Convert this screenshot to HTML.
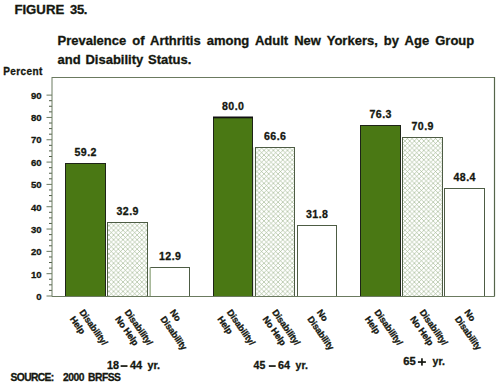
<!DOCTYPE html><html><head><meta charset="utf-8"><style>html,body{margin:0;padding:0;background:#fff;width:500px;height:383px;overflow:hidden}svg{display:block}text{font-family:"Liberation Sans",sans-serif;font-weight:bold;fill:#14170f;stroke:#14170f;stroke-width:0.3px}</style></head><body>
<svg width="500" height="383" viewBox="0 0 500 383">
<defs><pattern id="hx" patternUnits="userSpaceOnUse" x="0.8" width="4.7" height="4.7"><path d="M-1,-1 L5.7,5.7 M-1,5.7 L5.7,-1" stroke="#98b088" stroke-width="0.6" fill="none"/></pattern></defs>
<text x="14.4" y="14.2" font-size="13.2">FIGURE</text><text x="70" y="14.2" font-size="13" letter-spacing="-0.3">35.</text>
<text x="57.5" y="44.8" font-size="13" word-spacing="2.45">Prevalence of Arthritis among Adult New Yorkers, by Age Group</text>
<text x="57.5" y="63.6" font-size="13" word-spacing="1.2">and Disability Status.</text>
<text x="3.3" y="74.7" font-size="10" letter-spacing="0.4">Percent</text>
<text x="41.6" y="300.00" font-size="9.6" text-anchor="end">0</text>
<line x1="46.5" y1="296.00" x2="52" y2="296.00" stroke="#6b7a60" stroke-width="1"/>
<line x1="49" y1="290.42" x2="52" y2="290.42" stroke="#4f5d46" stroke-width="1"/>
<line x1="49" y1="284.84" x2="52" y2="284.84" stroke="#4f5d46" stroke-width="1"/>
<line x1="49" y1="279.26" x2="52" y2="279.26" stroke="#4f5d46" stroke-width="1"/>
<text x="41.6" y="277.64" font-size="9.6" text-anchor="end">10</text>
<line x1="46.5" y1="273.68" x2="52" y2="273.68" stroke="#6b7a60" stroke-width="1"/>
<line x1="49" y1="268.10" x2="52" y2="268.10" stroke="#4f5d46" stroke-width="1"/>
<line x1="49" y1="262.52" x2="52" y2="262.52" stroke="#4f5d46" stroke-width="1"/>
<line x1="49" y1="256.94" x2="52" y2="256.94" stroke="#4f5d46" stroke-width="1"/>
<text x="41.6" y="255.28" font-size="9.6" text-anchor="end">20</text>
<line x1="46.5" y1="251.36" x2="52" y2="251.36" stroke="#6b7a60" stroke-width="1"/>
<line x1="49" y1="245.78" x2="52" y2="245.78" stroke="#4f5d46" stroke-width="1"/>
<line x1="49" y1="240.20" x2="52" y2="240.20" stroke="#4f5d46" stroke-width="1"/>
<line x1="49" y1="234.62" x2="52" y2="234.62" stroke="#4f5d46" stroke-width="1"/>
<text x="41.6" y="232.92" font-size="9.6" text-anchor="end">30</text>
<line x1="46.5" y1="229.04" x2="52" y2="229.04" stroke="#6b7a60" stroke-width="1"/>
<line x1="49" y1="223.46" x2="52" y2="223.46" stroke="#4f5d46" stroke-width="1"/>
<line x1="49" y1="217.88" x2="52" y2="217.88" stroke="#4f5d46" stroke-width="1"/>
<line x1="49" y1="212.30" x2="52" y2="212.30" stroke="#4f5d46" stroke-width="1"/>
<text x="41.6" y="210.56" font-size="9.6" text-anchor="end">40</text>
<line x1="46.5" y1="206.72" x2="52" y2="206.72" stroke="#6b7a60" stroke-width="1"/>
<line x1="49" y1="201.14" x2="52" y2="201.14" stroke="#4f5d46" stroke-width="1"/>
<line x1="49" y1="195.56" x2="52" y2="195.56" stroke="#4f5d46" stroke-width="1"/>
<line x1="49" y1="189.98" x2="52" y2="189.98" stroke="#4f5d46" stroke-width="1"/>
<text x="41.6" y="188.20" font-size="9.6" text-anchor="end">50</text>
<line x1="46.5" y1="184.40" x2="52" y2="184.40" stroke="#6b7a60" stroke-width="1"/>
<line x1="49" y1="178.82" x2="52" y2="178.82" stroke="#4f5d46" stroke-width="1"/>
<line x1="49" y1="173.24" x2="52" y2="173.24" stroke="#4f5d46" stroke-width="1"/>
<line x1="49" y1="167.66" x2="52" y2="167.66" stroke="#4f5d46" stroke-width="1"/>
<text x="41.6" y="165.84" font-size="9.6" text-anchor="end">60</text>
<line x1="46.5" y1="162.08" x2="52" y2="162.08" stroke="#6b7a60" stroke-width="1"/>
<line x1="49" y1="156.50" x2="52" y2="156.50" stroke="#4f5d46" stroke-width="1"/>
<line x1="49" y1="150.92" x2="52" y2="150.92" stroke="#4f5d46" stroke-width="1"/>
<line x1="49" y1="145.34" x2="52" y2="145.34" stroke="#4f5d46" stroke-width="1"/>
<text x="41.6" y="143.48" font-size="9.6" text-anchor="end">70</text>
<line x1="46.5" y1="139.76" x2="52" y2="139.76" stroke="#6b7a60" stroke-width="1"/>
<line x1="49" y1="134.18" x2="52" y2="134.18" stroke="#4f5d46" stroke-width="1"/>
<line x1="49" y1="128.60" x2="52" y2="128.60" stroke="#4f5d46" stroke-width="1"/>
<line x1="49" y1="123.02" x2="52" y2="123.02" stroke="#4f5d46" stroke-width="1"/>
<text x="41.6" y="121.12" font-size="9.6" text-anchor="end">80</text>
<line x1="46.5" y1="117.44" x2="52" y2="117.44" stroke="#6b7a60" stroke-width="1"/>
<line x1="49" y1="111.86" x2="52" y2="111.86" stroke="#4f5d46" stroke-width="1"/>
<line x1="49" y1="106.28" x2="52" y2="106.28" stroke="#4f5d46" stroke-width="1"/>
<line x1="49" y1="100.70" x2="52" y2="100.70" stroke="#4f5d46" stroke-width="1"/>
<text x="41.6" y="98.76" font-size="9.6" text-anchor="end">90</text>
<line x1="46.5" y1="95.12" x2="52" y2="95.12" stroke="#6b7a60" stroke-width="1"/>
<rect x="65.50" y="163.50" width="40.00" height="133.00" fill="#4a7814" stroke="#1e2418" stroke-width="1"/>
<text x="85.70" y="156.20" font-size="10.6" letter-spacing="0.4" text-anchor="middle">59.2</text>
<rect x="107.50" y="222.50" width="40.00" height="74.00" fill="url(#hx)" stroke="#4d5c44" stroke-width="1"/>
<text x="127.70" y="215.20" font-size="10.6" letter-spacing="0.4" text-anchor="middle">32.9</text>
<rect x="150.50" y="267.50" width="39.00" height="29.00" fill="#fff" stroke="#4d5c44" stroke-width="1"/>
<text x="170.20" y="260.20" font-size="10.6" letter-spacing="0.4" text-anchor="middle">12.9</text>
<rect x="213.50" y="117.50" width="39.00" height="179.00" fill="#4a7814" stroke="#1e2418" stroke-width="1"/>
<text x="233.20" y="110.20" font-size="10.6" letter-spacing="0.4" text-anchor="middle">80.0</text>
<rect x="255.50" y="147.50" width="39.00" height="149.00" fill="url(#hx)" stroke="#4d5c44" stroke-width="1"/>
<text x="275.20" y="140.20" font-size="10.6" letter-spacing="0.4" text-anchor="middle">66.6</text>
<rect x="297.50" y="225.50" width="39.00" height="71.00" fill="#fff" stroke="#4d5c44" stroke-width="1"/>
<text x="317.20" y="218.20" font-size="10.6" letter-spacing="0.4" text-anchor="middle">31.8</text>
<rect x="360.50" y="125.50" width="40.00" height="171.00" fill="#4a7814" stroke="#1e2418" stroke-width="1"/>
<text x="380.70" y="118.20" font-size="10.6" letter-spacing="0.4" text-anchor="middle">76.3</text>
<rect x="402.50" y="137.50" width="40.00" height="159.00" fill="url(#hx)" stroke="#4d5c44" stroke-width="1"/>
<text x="422.70" y="130.20" font-size="10.6" letter-spacing="0.4" text-anchor="middle">70.9</text>
<rect x="444.50" y="188.50" width="40.00" height="108.00" fill="#fff" stroke="#4d5c44" stroke-width="1"/>
<text x="464.70" y="181.20" font-size="10.6" letter-spacing="0.4" text-anchor="middle">48.4</text>
<rect x="213" y="116.5" width="40" height="1.8" fill="#111"/>
<rect x="149.3" y="267.5" width="1.6" height="28.5" fill="#b3c4a6"/>
<rect x="253.2" y="147.5" width="1" height="148.5" fill="#d6ddd0"/>
<path d="M52,77.5 H494.5 M52,77 V296.5 H494.5" stroke="#6b7a60" stroke-width="1" fill="none"/><path d="M494.5,77 V296.5" stroke="#55654a" stroke-width="1.2" fill="none"/>
<g transform="translate(79.10,312.30) rotate(55)"><text x="0" y="0" font-size="9.2" letter-spacing="-0.2">Disability/</text><text x="0" y="11.6" font-size="9.2" letter-spacing="-0.2">Help</text></g>
<g transform="translate(124.30,312.30) rotate(55)"><text x="0" y="0" font-size="9.2" letter-spacing="-0.2">Disability/</text><text x="0" y="11.6" font-size="9.2" letter-spacing="-0.2">No Help</text></g>
<g transform="translate(169.60,312.30) rotate(55)"><text x="0" y="0" font-size="9.2" letter-spacing="-0.2">No</text><text x="0" y="11.6" font-size="9.2" letter-spacing="-0.2">Disability</text></g>
<g transform="translate(226.60,312.30) rotate(55)"><text x="0" y="0" font-size="9.2" letter-spacing="-0.2">Disability/</text><text x="0" y="11.6" font-size="9.2" letter-spacing="-0.2">Help</text></g>
<g transform="translate(271.80,312.30) rotate(55)"><text x="0" y="0" font-size="9.2" letter-spacing="-0.2">Disability/</text><text x="0" y="11.6" font-size="9.2" letter-spacing="-0.2">No Help</text></g>
<g transform="translate(316.60,312.30) rotate(55)"><text x="0" y="0" font-size="9.2" letter-spacing="-0.2">No</text><text x="0" y="11.6" font-size="9.2" letter-spacing="-0.2">Disability</text></g>
<g transform="translate(374.10,312.30) rotate(55)"><text x="0" y="0" font-size="9.2" letter-spacing="-0.2">Disability/</text><text x="0" y="11.6" font-size="9.2" letter-spacing="-0.2">Help</text></g>
<g transform="translate(419.30,312.30) rotate(55)"><text x="0" y="0" font-size="9.2" letter-spacing="-0.2">Disability/</text><text x="0" y="11.6" font-size="9.2" letter-spacing="-0.2">No Help</text></g>
<g transform="translate(464.10,312.30) rotate(55)"><text x="0" y="0" font-size="9.2" letter-spacing="-0.2">No</text><text x="0" y="11.6" font-size="9.2" letter-spacing="-0.2">Disability</text></g>
<text x="107.00" y="368.80" font-size="10.8">18</text>
<rect x="120.6" y="365.2" width="6.9" height="1.7" fill="#14170f"/>
<text x="130.00" y="368.80" font-size="11">44</text>
<text x="147.40" y="368.80" font-size="10.8">yr.</text>
<text x="253.60" y="369.10" font-size="10.5">45</text>
<rect x="268.8" y="365.2" width="6.9" height="1.7" fill="#14170f"/>
<text x="278.00" y="369.10" font-size="10.8">64</text>
<text x="295.60" y="369.10" font-size="10.5">yr.</text>
<text x="403.20" y="365.40" font-size="11.2">65</text>
<rect x="417.9" y="361.2" width="8" height="1.7" fill="#14170f"/><rect x="421.1" y="358.3" width="1.7" height="7.3" fill="#14170f"/>
<text x="432.60" y="365.20" font-size="10.5">yr.</text>
<text x="10.6" y="380.6" font-size="10.3" letter-spacing="-0.66">SOURCE:</text><text x="62.9" y="380.6" font-size="10.3" letter-spacing="-0.45">2000</text><text x="88.1" y="380.6" font-size="10.3" letter-spacing="-0.5">BRFSS</text>
</svg></body></html>
